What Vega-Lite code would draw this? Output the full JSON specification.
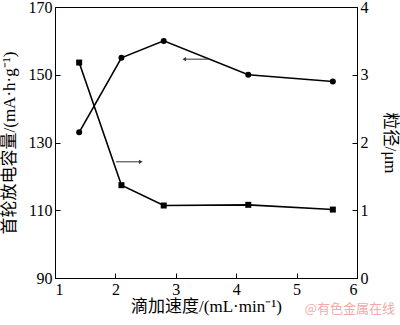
{
  "$schema": "https://vega.github.io/schema/vega-lite/v6.json",
  "width": 302,
  "height": 271,
  "autosize": {"type": "none"},
  "padding": {"left": 55, "top": 7, "right": 43, "bottom": 47},
  "background": "white",
  "datasets": {
    "capacity": [
      {"rate": 1.4, "capacity": 133},
      {"rate": 2.1, "capacity": 155},
      {"rate": 2.8, "capacity": 160},
      {"rate": 4.2, "capacity": 150},
      {"rate": 5.6, "capacity": 148}
    ],
    "size": [
      {"rate": 1.4, "size": 3.18},
      {"rate": 2.1, "size": 1.37},
      {"rate": 2.8, "size": 1.07},
      {"rate": 4.2, "size": 1.08},
      {"rate": 5.6, "size": 1.01}
    ],
    "arrows": [
      {"from": 3.57, "to": 3.14, "capacity": 154.6, "dir": "left"},
      {"from": 2.01, "to": 2.42, "capacity": 124.3, "dir": "right"}
    ]
  },
  "title": {
    "text": "@有色金属在线",
    "orient": "bottom",
    "anchor": "end",
    "frame": "group",
    "font": "Noto Sans CJK SC",
    "fontSize": 13,
    "fontWeight": "normal",
    "color": "#f3a9a9",
    "dx": 38,
    "offset": -11
  },
  "layer": [
    {
      "layer": [
        {
          "data": {"name": "capacity"},
          "mark": {"type": "line", "color": "black", "strokeWidth": 1.6},
          "encoding": {
            "x": {"field": "rate", "type": "quantitative", "scale": {"domain": [1, 6]},
                  "axis": {"values": [1, 2, 3, 4, 5, 6], "format": "d", "title": "滴加速度/(mL·min⁻¹)", "titlePadding": 1}},
            "y": {"field": "capacity", "type": "quantitative", "scale": {"domain": [90, 170]},
                  "axis": {"values": [90, 110, 130, 150, 170], "format": "d", "orient": "left", "title": "首轮放电容量/(mA·h·g⁻¹)", "titlePadding": 10}}
          }
        },
        {
          "data": {"name": "capacity"},
          "mark": {"type": "point", "shape": "circle", "filled": true, "color": "black", "size": 36, "opacity": 1},
          "encoding": {
            "x": {"field": "rate", "type": "quantitative"},
            "y": {"field": "capacity", "type": "quantitative", "title": "首轮放电容量/(mA·h·g⁻¹)"}
          }
        },
        {
          "data": {"name": "arrows"},
          "mark": {"type": "rule", "color": "#333333", "strokeWidth": 1},
          "encoding": {
            "x": {"field": "from", "type": "quantitative"},
            "x2": {"field": "to"},
            "y": {"field": "capacity", "type": "quantitative", "title": "首轮放电容量/(mA·h·g⁻¹)"}
          }
        },
        {
          "data": {"name": "arrows"},
          "mark": {"type": "point", "filled": true, "color": "#333333", "size": 18, "opacity": 1},
          "encoding": {
            "x": {"field": "to", "type": "quantitative"},
            "y": {"field": "capacity", "type": "quantitative", "title": "首轮放电容量/(mA·h·g⁻¹)"},
            "shape": {"field": "dir", "type": "nominal", "scale": {"domain": ["left", "right"], "range": ["triangle-left", "triangle-right"]}, "legend": null}
          }
        }
      ]
    },
    {
      "layer": [
        {
          "data": {"name": "size"},
          "mark": {"type": "line", "color": "black", "strokeWidth": 1.6},
          "encoding": {
            "x": {"field": "rate", "type": "quantitative"},
            "y": {"field": "size", "type": "quantitative", "scale": {"domain": [0, 4]},
                  "axis": {"values": [0, 1, 2, 3, 4], "format": "d", "orient": "right", "title": "粒径/μm", "titlePadding": 12}}
          }
        },
        {
          "data": {"name": "size"},
          "mark": {"type": "square", "color": "black", "size": 36, "opacity": 1},
          "encoding": {
            "x": {"field": "rate", "type": "quantitative"},
            "y": {"field": "size", "type": "quantitative", "title": "粒径/μm"}
          }
        }
      ]
    }
  ],
  "resolve": {"scale": {"y": "independent"}},
  "config": {
    "view": {"stroke": "black", "strokeWidth": 1},
    "axis": {
      "grid": false,
      "domainColor": "black",
      "domainWidth": 1,
      "tickColor": "black",
      "tickSize": -5,
      "labelFont": "Liberation Serif",
      "labelFontSize": 16,
      "labelColor": "black",
      "labelPadding": 8,
      "titleFont": "Liberation Serif, Noto Sans CJK SC",
      "titleFontSize": 17,
      "titleFontWeight": "normal",
      "titleColor": "black"
    }
  }
}
